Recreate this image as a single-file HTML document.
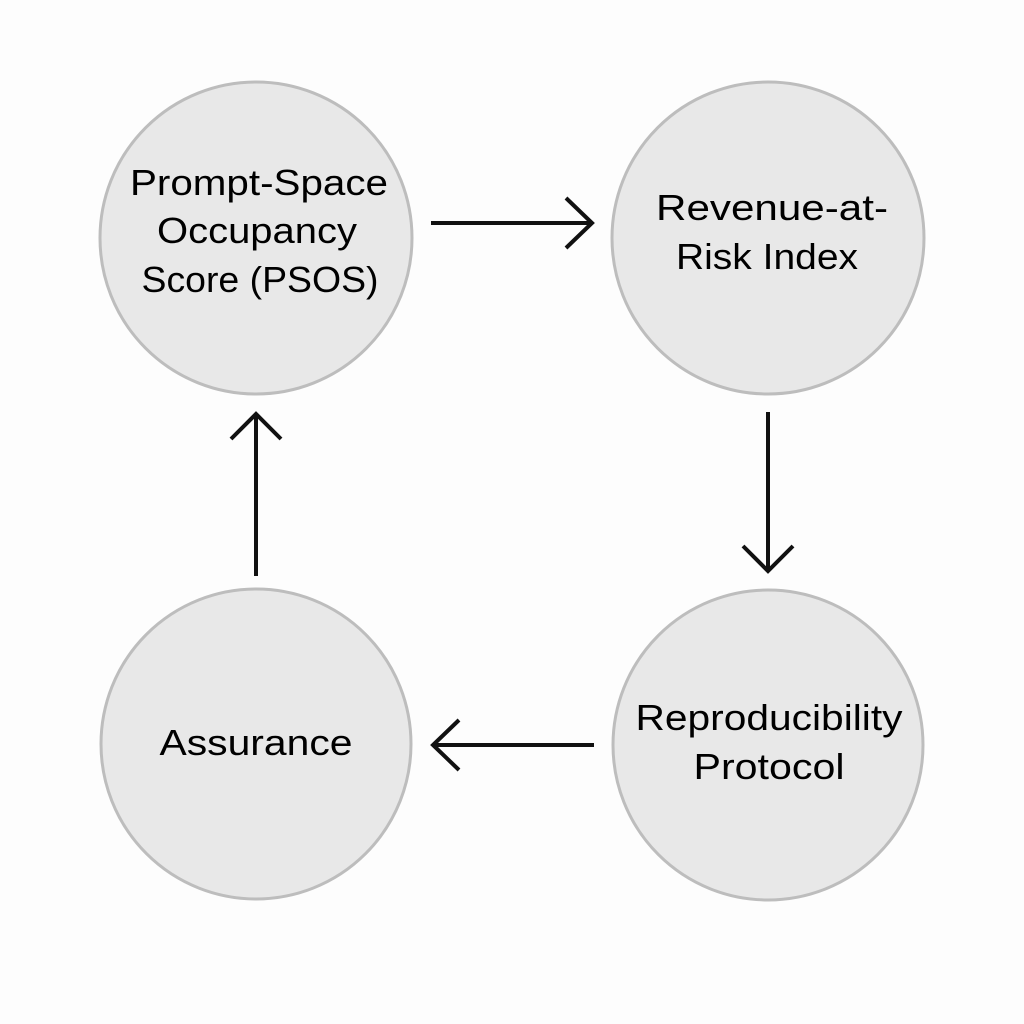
<!DOCTYPE html>
<html><head><style>
html,body{margin:0;padding:0;background:#fdfdfd;}
svg{display:block}
text{font-family:"Liberation Sans",sans-serif;font-size:36px;fill:#000;text-anchor:middle}
</style></head><body>
<svg width="1024" height="1024" viewBox="0 0 1024 1024">
<rect width="1024" height="1024" fill="#fdfdfd"/>
<g fill="#e8e8e8" stroke="#bdbdbd" stroke-width="3">
<circle cx="256" cy="238" r="156"/>
<circle cx="768" cy="238" r="156"/>
<circle cx="256" cy="744" r="155"/>
<circle cx="768" cy="745" r="155"/>
</g>
<g stroke="#111" stroke-width="4" fill="none" stroke-linecap="butt">
<line x1="431" y1="223" x2="592" y2="223"/>
<polyline points="566,198 592,223 566,248"/>
<line x1="768" y1="412" x2="768" y2="571"/>
<polyline points="743,546 768,571 793,546"/>
<line x1="594" y1="745" x2="433" y2="745"/>
<polyline points="459,720 433,745 459,770"/>
<line x1="256" y1="576" x2="256" y2="414"/>
<polyline points="231,439 256,414 281,439"/>
</g>
<text x="259" y="195" textLength="258" lengthAdjust="spacingAndGlyphs">Prompt-Space</text>
<text x="257" y="243" textLength="200" lengthAdjust="spacingAndGlyphs">Occupancy</text>
<text x="260" y="292" textLength="237" lengthAdjust="spacingAndGlyphs">Score (PSOS)</text>
<text x="772" y="220" textLength="232" lengthAdjust="spacingAndGlyphs">Revenue-at-</text>
<text x="767" y="269" textLength="182" lengthAdjust="spacingAndGlyphs">Risk Index</text>
<text x="256" y="755" textLength="193" lengthAdjust="spacingAndGlyphs">Assurance</text>
<text x="769" y="730" textLength="267" lengthAdjust="spacingAndGlyphs">Reproducibility</text>
<text x="769" y="779" textLength="151" lengthAdjust="spacingAndGlyphs">Protocol</text>
</svg>
</body></html>
